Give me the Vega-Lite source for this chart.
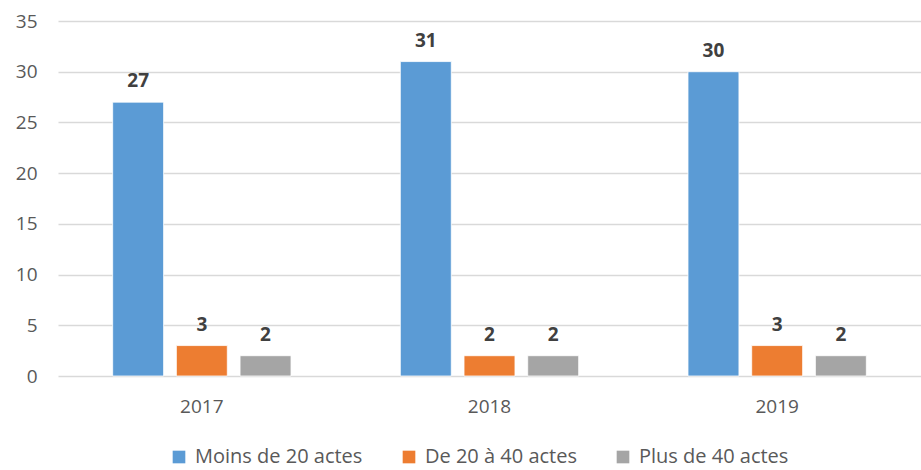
{
  "$schema": "https://vega.github.io/schema/vega-lite/v6.json",
  "width": 863,
  "height": 355,
  "autosize": {"type": "none"},
  "padding": {"left": 58, "top": 21, "right": 0, "bottom": 94},
  "background": "white",
  "config": {
    "view": {"stroke": null},
    "font": "Open Sans"
  },
  "data": {
    "values": [
      {"annee": "2017", "serie": "Moins de 20 actes", "valeur": 27},
      {"annee": "2017", "serie": "De 20 à 40 actes", "valeur": 3},
      {"annee": "2017", "serie": "Plus de 40 actes", "valeur": 2},
      {"annee": "2018", "serie": "Moins de 20 actes", "valeur": 31},
      {"annee": "2018", "serie": "De 20 à 40 actes", "valeur": 2},
      {"annee": "2018", "serie": "Plus de 40 actes", "valeur": 2},
      {"annee": "2019", "serie": "Moins de 20 actes", "valeur": 30},
      {"annee": "2019", "serie": "De 20 à 40 actes", "valeur": 3},
      {"annee": "2019", "serie": "Plus de 40 actes", "valeur": 2}
    ]
  },
  "encoding": {
    "x": {
      "field": "annee", "type": "nominal",
      "scale": {"paddingInner": 0.38, "paddingOuter": 0.19},
      "axis": {"title": null, "labelAngle": 0, "domain": false, "ticks": false, "labelPadding": 21, "grid": false, "labelFont": "Open Sans", "labelColor": "#595959", "labelFontSize": 19}
    },
    "xOffset": {
      "field": "serie", "type": "nominal",
      "sort": ["Moins de 20 actes", "De 20 à 40 actes", "Plus de 40 actes"],
      "scale": {"paddingInner": 0.2, "paddingOuter": 0}
    },
    "y": {
      "field": "valeur", "type": "quantitative",
      "scale": {"domain": [0, 35], "nice": false},
      "axis": {"title": null, "values": [0, 5, 10, 15, 20, 25, 30, 35], "domain": false, "ticks": false, "labelPadding": 21, "gridColor": "#d9d9d9", "gridWidth": 1.3, "labelFont": "Open Sans", "labelColor": "#595959", "labelFontSize": 19}
    }
  },
  "layer": [
    {
      "mark": {"type": "bar", "stroke": "white", "strokeWidth": 0.8},
      "encoding": {
        "color": {
          "field": "serie", "type": "nominal",
          "sort": ["Moins de 20 actes", "De 20 à 40 actes", "Plus de 40 actes"],
          "scale": {"domain": ["Moins de 20 actes", "De 20 à 40 actes", "Plus de 40 actes"], "range": ["#5b9bd5", "#ed7d31", "#a5a5a5"]},
          "legend": {
            "title": null, "orient": "none", "direction": "horizontal",
            "legendX": 111, "legendY": 426,
            "symbolType": "square", "symbolSize": 160, "symbolStrokeWidth": 0,
            "labelFontSize": 20, "labelColor": "#595959", "labelFont": "Open Sans", "labelLimit": 0,
            "columnPadding": 36, "labelOffset": 6
          }
        }
      }
    },
    {
      "mark": {"type": "text", "baseline": "alphabetic", "dy": -15, "fontWeight": "bold", "fontSize": 19, "color": "#404040", "font": "Open Sans"},
      "encoding": {"text": {"field": "valeur", "type": "quantitative"}}
    }
  ]
}
